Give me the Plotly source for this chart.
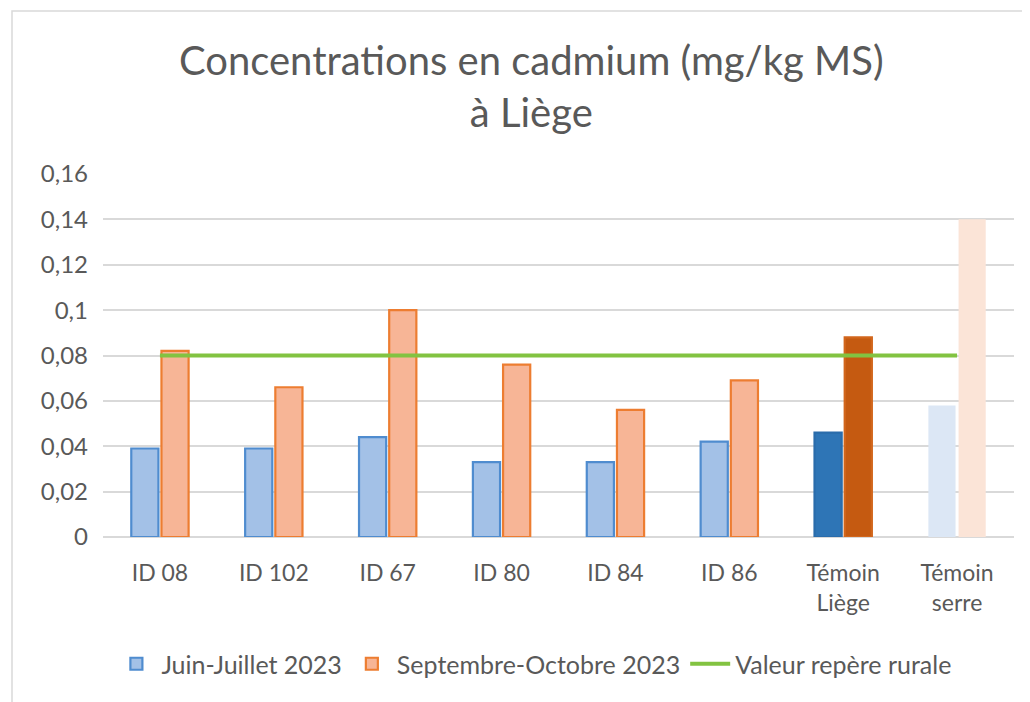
import plotly.graph_objects as go

categories = ["ID 08", "ID 102", "ID 67", "ID 80", "ID 84", "ID 86", "Témoin<br>Liège", "Témoin<br>serre"]
juin_juillet = [0.039, 0.039, 0.044, 0.033, 0.033, 0.042, 0.046, 0.058]
sept_oct = [0.082, 0.066, 0.100, 0.076, 0.056, 0.069, 0.088, 0.140]
valeur_repere = [0.08] * len(categories)
y_ticks = [0, 0.02, 0.04, 0.06, 0.08, 0.10, 0.12, 0.14, 0.16]
y_tick_labels = ["0", "0,02", "0,04", "0,06", "0,08", "0,1", "0,12", "0,14", "0,16"]

blue_fill = ["#a3c1e7"] * 6 + ["#2e75b6", "#dce7f5"]
blue_line = ["#4f8ccf"] * 6 + ["#2a6cab", "#dce7f5"]
orange_fill = ["#f7b596"] * 6 + ["#c55a11", "#fbe4d7"]
orange_line = ["#ed7d31"] * 6 + ["#d2661c", "#fbe4d7"]
line_w = [2.2] * 7 + [0]

FONT = "Lato"
GRAY = "#595959"

W, H = 1022, 694
L, T = 95, 166
PW, PH = 911, 363

fig = go.Figure()
fig.add_trace(go.Bar(
    x=categories, y=juin_juillet, name="Juin-Juillet 2023",
    marker=dict(color=blue_fill, line=dict(color=blue_line, width=line_w)),
))
fig.add_trace(go.Bar(
    x=categories, y=sept_oct, name="Septembre-Octobre 2023",
    marker=dict(color=orange_fill, line=dict(color=orange_line, width=line_w)),
))
fig.add_trace(go.Scatter(
    x=categories, y=valeur_repere, name="Valeur repère rurale",
    mode="lines", line=dict(color="#82c341", width=3.8),
))

fig.update_layout(
    width=W, height=H,
    paper_bgcolor="white", plot_bgcolor="white",
    margin=dict(l=L, r=W - L - PW, t=T, b=H - T - PH),
    barmode="group", bargap=0.47, bargroupgap=0.1,
    font=dict(family=FONT, color=GRAY),
    title=dict(
        text="Concentrations en cadmium (mg/kg MS)<br>à Liège",
        font=dict(family=FONT, size=40, color=GRAY),
        x=0.512, xref="container", xanchor="center",
        y=1 - 67 / H, yref="container", yanchor="middle",
    ),
    legend=dict(
        orientation="h", x=0.473, xanchor="center", xref="paper",
        y=(PH - (664 - 8 - T)) / PH, yanchor="middle",
        font=dict(family=FONT, size=25, color=GRAY),
        bgcolor="rgba(0,0,0,0)", itemwidth=40, tracegroupgap=20,
    ),
    showlegend=True,
    shapes=[dict(
        type="rect", xref="paper", yref="paper",
        x0=(4 - L) / PW, x1=(1040 - L) / PW,
        y0=(PH - (720 - T)) / PH, y1=(PH - (3 - T)) / PH,
        line=dict(color="#d9d9d9", width=1.5), fillcolor="rgba(0,0,0,0)",
        layer="below",
    )],
)
fig.update_xaxes(
    type="category", showgrid=False, showline=False, zeroline=False,
    tickfont=dict(family=FONT, size=23, color=GRAY),
    ticks="", ticklabelstandoff=20,
)
fig.update_yaxes(
    range=[0, 0.16], tickvals=y_ticks, ticktext=y_tick_labels,
    showgrid=True, gridcolor="#d9d9d9", gridwidth=1.5,
    zeroline=True, zerolinecolor="#d9d9d9", zerolinewidth=1.5,
    showline=False, ticks="", ticklabelstandoff=14,
    tickfont=dict(family=FONT, size=24, color=GRAY),
)

fig.write_html("out.html")
